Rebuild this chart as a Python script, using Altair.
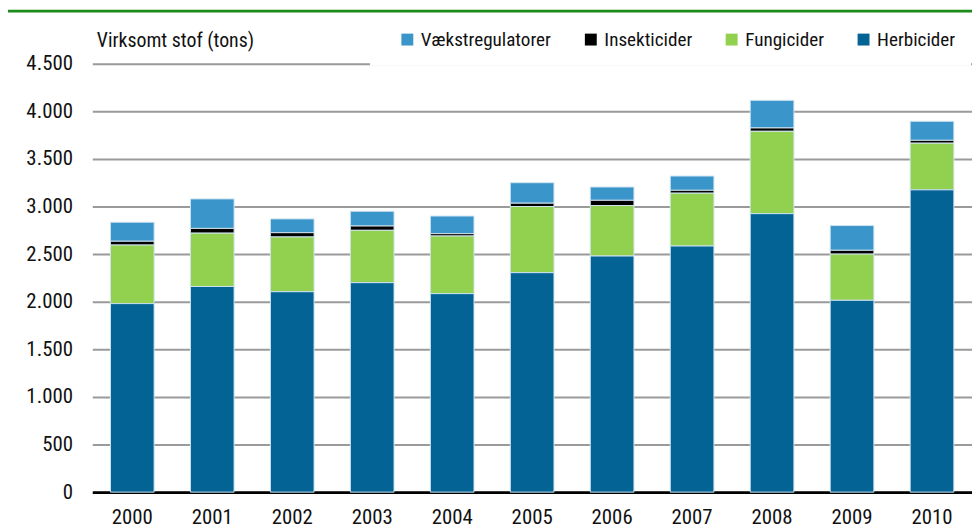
import altair as alt
import pandas as pd

years = [str(y) for y in range(2000, 2011)]
herbicider = [1980, 2160, 2105, 2200, 2085, 2305, 2480, 2585, 2925, 2015, 3175]
fungicider = [615, 560, 575, 550, 605, 695, 530, 555, 865, 485, 490]
insekticider = [40, 50, 45, 45, 25, 35, 55, 30, 35, 40, 30]
vaekstregulatorer = [200, 310, 145, 155, 185, 215, 140, 150, 290, 260, 200]

series = ["Vækstregulatorer", "Insekticider", "Fungicider", "Herbicider"]
colors = ["#3a96ca", "#000000", "#92d050", "#036395"]
stack_order = {"Herbicider": 0, "Fungicider": 1, "Insekticider": 2, "Vækstregulatorer": 3}
values = {
    "Herbicider": herbicider,
    "Fungicider": fungicider,
    "Insekticider": insekticider,
    "Vækstregulatorer": vaekstregulatorer,
}

rows = []
for name in series:
    for yr, v in zip(years, values[name]):
        rows.append({"year": yr, "type": name, "value": v, "ord": stack_order[name]})
df = pd.DataFrame(rows)

FONT = "Liberation Sans Narrow, Roboto Condensed, DejaVu Sans Condensed, Roboto"

bars = alt.Chart(df).mark_bar(stroke="#cfe3ef", strokeWidth=1).encode(
    x=alt.X("year:N", title=None,
            scale=alt.Scale(paddingInner=0.454, paddingOuter=0.227),
            axis=alt.Axis(labelAngle=0, labelFontSize=21, labelFont=FONT, labelColor="#111",
                          labelPadding=15, ticks=False, domainColor="#000", domainWidth=3,
                          grid=False)),
    y=alt.Y("value:Q", stack="zero",
            scale=alt.Scale(domain=[0, 4500], nice=False),
            axis=alt.Axis(values=list(range(0, 4501, 500)),
                          labelExpr="replace(format(datum.value, ','), ',', '.')",
                          labelFontSize=21, labelFont=FONT, labelColor="#111", labelPadding=20,
                          ticks=False, domain=False, grid=True, gridColor="#9a9a9a", gridWidth=2,
                          title="Virksomt stof (tons)", titleAngle=0, titleAlign="left",
                          titleBaseline="alphabetic", titleX=4, titleY=-17,
                          titleFont=FONT, titleFontSize=20, titleFontWeight="normal",
                          titleColor="#111")),
    color=alt.Color("type:N", scale=alt.Scale(domain=series, range=colors),
                    legend=alt.Legend(orient="none", legendX=291, legendY=-39,
                                      direction="horizontal", columns=4,
                                      title="\u00a0", titleOrient="left", titlePadding=12,
                                      titleFontSize=20,
                                      symbolType="square", symbolSize=144,
                                      symbolStrokeWidth=0, labelFontSize=19.3, labelFont=FONT,
                                      labelColor="#111", columnPadding=30, labelOffset=4,
                                      fillColor="white", strokeColor="white", padding=5)),
    order=alt.Order("ord:Q", sort="ascending"),
)

topline = alt.Chart(pd.DataFrame({"a": [0]})).mark_rule(color="#1a8a1a", strokeWidth=3).encode(
    x=alt.value(-85), x2=alt.value(887), y=alt.value(-53)
)

chart = alt.layer(bars, topline).properties(
    width=887, height=432,
    autosize=alt.AutoSizeParams(type="none"),
    padding={"left": 85, "top": 54, "right": 0, "bottom": 34},
    background="white",
).configure_view(stroke=None).configure_legend(strokeWidth=22)

chart.save("out.html", embed_options={"renderer": "svg", "actions": False})
